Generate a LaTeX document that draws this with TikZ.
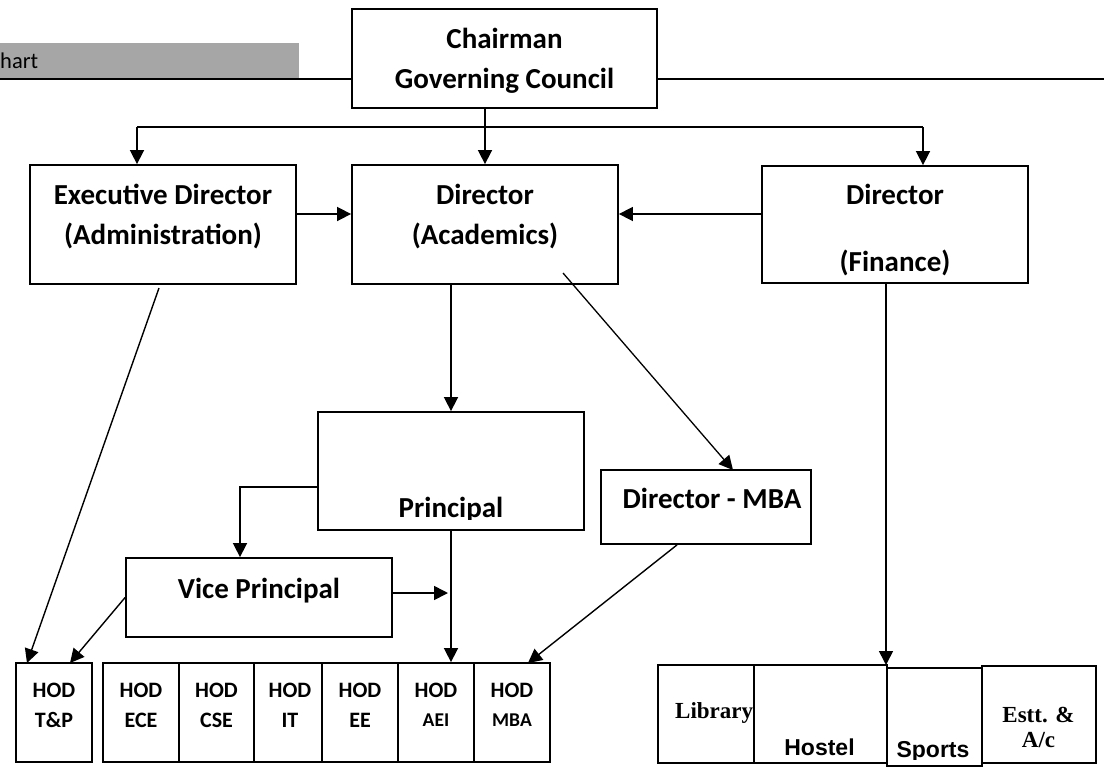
\documentclass[tikz,border=0pt]{standalone}
\usepackage{fontspec}
\setmainfont{Carlito}
\newfontfamily\tnr{Liberation Serif}
\newfontfamily\arl{Liberation Sans}
\usetikzlibrary{arrows.meta}
\definecolor{bargrey}{HTML}{A6A6A6}
\begin{document}
\begin{tikzpicture}[x=1pt,y=-1pt,
  box/.style={draw, line width=1.8pt, rectangle, inner sep=0pt},
  lbl/.style={anchor=base, inner sep=0pt, font=\bfseries\fontsize{29}{35}\selectfont},
  hodt/.style={anchor=base, inner sep=0pt, font=\bfseries\fontsize{22}{26}\selectfont},
  hods/.style={anchor=base, inner sep=0pt, font=\bfseries\fontsize{19.5}{23}\selectfont},
  serift/.style={anchor=base, inner sep=0pt, font=\tnr\bfseries\fontsize{23}{27}\selectfont},
  sanst/.style={anchor=base, inner sep=0pt, font=\arl\bfseries\fontsize{23}{27}\selectfont},
  conn/.style={line width=1.6pt},
  arr/.style={conn, -{Triangle[length=14pt,width=14pt]}},
]
\useasboundingbox (0,0) rectangle (1104,769);

% title bar
\fill[bargrey] (0,43) rectangle (299,78);
\node[anchor=base west, inner sep=0pt, font=\fontsize{22.5}{26}\selectfont] (title) at (0,68) {hart};

% boxes
\node[box, minimum width=305pt, minimum height=99pt] (chair) at (504.5,58.5) {};
\node[box, minimum width=266pt, minimum height=119pt] (exec) at (163,224.5) {};
\node[box, minimum width=266pt, minimum height=119pt] (acad) at (485,224.5) {};
\node[box, minimum width=266pt, minimum height=117pt] (fin) at (895,224.5) {};
\node[box, minimum width=266pt, minimum height=118pt] (prin) at (451,471) {};
\node[box, minimum width=210pt, minimum height=74pt] (mba) at (706,507) {};
\node[box, minimum width=266pt, minimum height=79pt] (vp) at (259,597.5) {};

% texts
\node[lbl] (chairT1) at (504.5,48) {Chairman};
\node[lbl] (chairT2) at (504.5,88) {Governing Council};
\node[lbl] (execT1) at (163,204) {Executive Director};
\node[lbl] (execT2) at (163,244) {(Administration)};
\node[lbl] (acadT1) at (485,204) {Director};
\node[lbl] (acadT2) at (485,244) {(Academics)};
\node[lbl] (finT1) at (895,204) {Director};
\node[lbl] (finT2) at (895,271) {(Finance)};
\begin{scope}
  \clip (330,420) rectangle (570,519);
  \node[lbl] (prinT) at (451,517) {Principal};
\end{scope}
\node[lbl] (mbaT) at (712,508) {Director - MBA};
\node[lbl] (vpT) at (259,598) {Vice Principal};

% HOD row
\node[box, minimum width=76pt, minimum height=99pt] (tp) at (54,712.5) {};
\node[box, minimum width=76pt, minimum height=99pt] (ece) at (141,712.5) {};
\node[box, minimum width=75pt, minimum height=99pt] (cse) at (216.5,712.5) {};
\node[box, minimum width=68pt, minimum height=99pt] (it) at (288,712.5) {};
\node[box, minimum width=76pt, minimum height=99pt] (ee) at (360,712.5) {};
\node[box, minimum width=76pt, minimum height=99pt] (aei) at (436,712.5) {};
\node[box, minimum width=76pt, minimum height=99pt] (hmba) at (512,712.5) {};

\node[hodt] (tpT1) at (54,697) {HOD};
\node[hodt] (tpT2) at (54,727) {T\&P};
\node[hodt] (eceT1) at (141,697) {HOD};
\node[hodt] (eceT2) at (141,727) {ECE};
\node[hodt] (cseT1) at (216.5,697) {HOD};
\node[hodt] (cseT2) at (216.5,727) {CSE};
\node[hodt] (itT1) at (290,697) {HOD};
\node[hodt] (itT2) at (290,727) {IT};
\node[hodt] (eeT1) at (360,697) {HOD};
\node[hodt] (eeT2) at (360,727) {EE};
\node[hodt] (aeiT1) at (436,697) {HOD};
\node[hods] (aeiT2) at (436,726) {AEI};
\node[hodt] (hmbaT1) at (512,697) {HOD};
\node[hods] (hmbaT2) at (512,726) {MBA};

% support row
\node[box, minimum width=96pt, minimum height=98pt] (lib) at (706,714) {};
\node[box, minimum width=133pt, minimum height=98pt] (hostel) at (820.5,714) {};
\node[box, minimum width=95pt, minimum height=98pt] (sports) at (934.5,717) {};
\node[box, minimum width=114pt, minimum height=97pt] (estt) at (1039,714.5) {};

\node[serift, anchor=base west] (libT) at (675,718) {Library};
\node[sanst] (hostelT) at (819.5,755) {Hostel};
\begin{scope}
  \clip (890,700) rectangle (980,759);
  \node[sanst] (sportsT) at (933,757) {Sports};
\end{scope}
\node[serift] (esttT1) at (1038.5,722) {Estt. \&};
\node[serift] (esttT2) at (1038.5,747) {A/c};

% connectors
\coordinate (lineL) at (0,79);
\coordinate (lineR) at (1104,79);
\draw[conn] (chair.west |- lineL) -- (lineL);
\draw[conn] (chair.east |- lineR) -- (lineR);

\draw[arr] (acad.north |- chair.south) -- (acad.north);
\coordinate (busL) at (137,127);
\coordinate (busR) at (923,127);
\draw[conn] (busL) -- (busR);
\draw[arr] (busL) -- (busL |- exec.north);
\draw[arr] (busR) -- (busR |- fin.north);

\coordinate (hA) at (0,214);
\draw[arr] (exec.east |- hA) -- (acad.west |- hA);
\draw[arr] (fin.west |- hA) -- (acad.east |- hA);

\coordinate (e1) at (159,288);
\coordinate (tpA) at (27,663);
\draw[arr, line width=1.4pt] (e1) -- (tpA);

\draw[arr] (prin.north |- acad.south) -- (prin.north);

\coordinate (a1) at (563,273);
\coordinate (mA) at (733,470);
\draw[arr, line width=1.3pt] (a1) -- (mA);

\coordinate (pv) at (240,487);
\draw[arr] (prin.west |- pv) -- (pv) -- (pv |- vp.north);

\coordinate (vpR) at (448,593);
\draw[arr] (vp.east |- vpR) -- (vpR);

\draw[arr] (prin.south) -- (prin.south |- aei.north);

\coordinate (tpB) at (70,663);
\draw[arr, line width=1.4pt] (vp.west) -- (tpB);

\coordinate (m1) at (677,544);
\coordinate (hmA) at (528,663);
\draw[arr, line width=1.4pt] (mba.south -| m1) -- (hmA);

\coordinate (fv) at (886,665);
\draw[arr] (fv |- fin.south) -- (fv);
\end{tikzpicture}
\end{document}
